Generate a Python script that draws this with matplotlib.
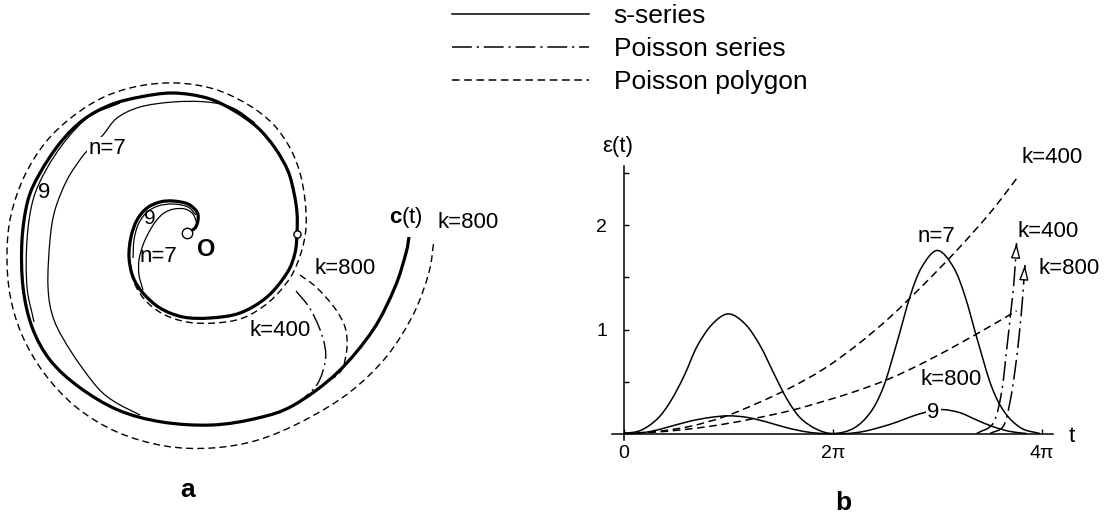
import numpy as np
import matplotlib
matplotlib.use('Agg')
import matplotlib.pyplot as plt
from matplotlib.path import Path
from matplotlib.patches import PathPatch
from matplotlib.lines import Line2D

plt.rcParams['font.family'] = ['Liberation Sans', 'DejaVu Sans']
plt.rcParams['mathtext.fontset'] = 'custom'
plt.rcParams['mathtext.rm'] = 'Liberation Sans'
plt.rcParams['mathtext.bf'] = 'Liberation Sans:bold'

# ---- panel a: curve points (origin at O, y up) ----
c_x = [0, 8, 11, 10, 1, -14, -27, -40, -50, -56, -58, -54, -44, -27, -4, 23, 53, 80, 100, 108,
       110, 110, 107, 101, 88, 70, 46, 20, -14, -47, -77, -104, -127, -147, -159, -165, -164,
       -155, -137, -108, -69, -25, 25, 71, 107, 150, 186, 208, 219, 222]
c_y = [0, 5, 13, 21, 29, 32, 31, 25, 13, -4, -24, -44, -60, -75, -84, -85, -80, -64, -40, -20,
       0, 20, 40, 62, 85, 106, 123, 135, 140, 136, 128, 113, 90, 60, 33, -7, -54,
       -94, -127, -154, -177, -189, -192, -185, -172, -140, -97, -54, -20, -4]

poly800_x = [-57, -53, -42, -24, 0, 28, 56, 82, 103, 114, 119, 118, 113, 103, 86, 60, 27, -10, -48,
             -83, -115, -142, -163, -176, -180, -177, -165, -143, -111, -70, -22, 25, 71, 118, 163,
             200, 227, 242, 247]
poly800_y = [-29, -49, -67, -81, -89, -90, -85, -69, -45, -20, 5, 33, 60, 85, 109, 129, 144, 150, 147,
             136, 116, 90, 56, 18, -20, -62, -102, -140, -174, -199, -213, -215, -207, -187, -159,
             -123, -80, -39, -7]

n7_out_x = [68, 46, 20, -14, -47, -70, -84, -95, -105, -120, -132, -137, -139, -133, -115, -90, -72, -47]
n7_out_y = [110, 125, 131, 131, 126, 115, 98, 87, 76, 53, 23, -7, -54, -87, -120, -154, -169, -182]

n9_out_x = [-67, -97, -121, -141, -154, -160, -160, -153]
n9_out_y = [130, 117, 93, 63, 33, -7, -54, -89]

n7_in_x = [10, 6, -2, -13, -23, -31, -38, -44, -48, -48, -44]
n7_in_y = [9, 19, 24, 24, 20, 12, 1, -12, -27, -42, -57]

n9_in_x = [9, 1, -14, -29, -41, -49, -53, -54]
n9_in_y = [18, 26, 29, 27, 20, 8, -7, -25]

mid800_x = [113, 129, 147, 158, 160, 156, 149, 143]
mid800_y = [-42, -54, -74, -94, -114, -134, -143, -146]

mid400_x = [109, 122, 132, 138, 138, 131, 118, 107]
mid400_y = [-58, -74, -94, -114, -130, -150, -164, -172]

dots_x = [0, 110]
dots_y = [0, -1]

# ---- panel b: error curves ----
t7 = [0.0, 0.5, 1.0, 1.4, 1.8, 2.2, 2.65, 3.14, 3.65, 4.1, 4.5, 4.9, 5.3, 5.8, 6.3,
      6.9, 7.4, 7.8, 8.2, 8.6, 8.95, 9.42, 9.9, 10.25, 10.65, 11.05, 11.45, 11.95, 12.5]
e7 = [0.0, 0.03, 0.14, 0.31, 0.55, 0.84, 1.05, 1.15, 1.05, 0.84, 0.58, 0.33, 0.15, 0.04, 0.0,
      0.05, 0.2, 0.45, 0.87, 1.32, 1.6, 1.76, 1.6, 1.32, 0.87, 0.45, 0.2, 0.05, 0.0]

t9 = [0.0, 0.3, 0.8, 1.3, 2.0, 2.6, 3.14, 3.7, 4.3, 4.9, 5.5, 6.0, 6.7, 7.2, 7.7, 8.2, 8.7,
      9.2, 9.6, 10.1, 10.6, 11.1, 11.6, 12.1]
e9 = [0.0, 0.0, 0.02, 0.06, 0.12, 0.155, 0.17, 0.155, 0.11, 0.055, 0.015, 0.0, 0.0, 0.02, 0.06,
      0.11, 0.17, 0.215, 0.23, 0.2, 0.13, 0.065, 0.02, 0.0]

tp = [0, 1, 2, 3, 4, 5, 6, 7, 8, 9, 10, 11, 11.8]
ep400 = [0, 0.02, 0.07, 0.16, 0.29, 0.44, 0.62, 0.85, 1.12, 1.43, 1.76, 2.12, 2.45]
ep800 = [0, 0.015, 0.045, 0.09, 0.15, 0.22, 0.31, 0.41, 0.53, 0.68, 0.85, 1.03, 1.18]

ts400 = [10.6, 11.1, 11.35, 11.5, 11.62, 11.72, 11.8]
es400 = [0.0, 0.1, 0.4, 0.8, 1.15, 1.45, 1.83]
ts800 = [11.0, 11.4, 11.6, 11.75, 11.88, 11.98, 12.05]
es800 = [0.0, 0.07, 0.3, 0.6, 0.95, 1.3, 1.62]

DASH = (0, (5, 3))
DASHDOT = (0, (13, 3.2, 1.4, 3.2))


def smooth(xs, ys):
    # catmull-rom through the read points, drawn as bezier path
    p = np.column_stack([xs, ys]).astype(float)
    ext = np.vstack([2 * p[0] - p[1], p, 2 * p[-1] - p[-2]])
    verts = [p[0]]
    codes = [Path.MOVETO]
    for i in range(1, len(ext) - 2):
        p0, p1, p2, p3 = ext[i - 1], ext[i], ext[i + 1], ext[i + 2]
        verts += [p1 + (p2 - p0) / 6, p2 - (p3 - p1) / 6, p2]
        codes += [Path.CURVE4] * 3
    return Path(verts, codes)


def curve(ax, xs, ys, lw=1.0, ls='-', z=2):
    ax.add_patch(PathPatch(smooth(xs, ys), fill=False, ec='black', lw=lw, ls=ls,
                           capstyle='butt', joinstyle='round', zorder=z))


fig = plt.figure(figsize=(11.08, 5.21), dpi=100)

# panel a
axL = fig.add_axes([0, 0, 560 / 1108, 1])
axL.set_xlim(-187, 373)
axL.set_ylim(-288, 233)
axL.axis('off')

curve(axL, poly800_x, poly800_y, lw=1.0, ls=DASH, z=2)
curve(axL, mid800_x, mid800_y, lw=1.0, ls=DASH, z=2)
curve(axL, mid400_x, mid400_y, lw=1.0, ls=DASHDOT, z=2)
curve(axL, n7_out_x, n7_out_y, lw=0.9, z=3)
curve(axL, n9_out_x, n9_out_y, lw=0.9, z=3)
curve(axL, n7_in_x, n7_in_y, lw=0.9, z=3)
curve(axL, n9_in_x, n9_in_y, lw=0.9, z=3)
curve(axL, c_x, c_y, lw=2.3, z=4)
axL.plot(dots_x[:1], dots_y[:1], 'o', ms=7.5, mfc='white', mec='black', mew=1.0, zorder=6)
axL.plot(dots_x[1:], dots_y[1:], 'o', ms=5.2, mfc='white', mec='black', mew=1.0, zorder=6)

fs = 16
axL.text(-80, 85, 'n=7', fontsize=fs, ha='center', va='center', zorder=5,
         bbox=dict(fc='white', ec='none', pad=0.5))
axL.text(-143, 41, '9', fontsize=fs, ha='center', va='center', zorder=5)
axL.text(-37, 15, '9', fontsize=fs - 1, ha='center', va='center', zorder=5)
axL.text(-29, -23, 'n=7', fontsize=fs, ha='center', va='center', zorder=5)
axL.text(19, -16, 'O', fontsize=17, fontweight='bold', ha='center', va='center', zorder=5)
axL.text(158, -35, 'k=800', fontsize=fs, ha='center', va='center')
axL.text(93, -97, 'k=400', fontsize=fs, ha='center', va='center')
axL.text(219, 16, r'$\mathbf{c}\mathrm{(t)}$', fontsize=fs, ha='center', va='center')
axL.text(281, 11, 'k=800', fontsize=fs, ha='center', va='center')
axL.text(1, -257, 'a', fontsize=19, fontweight='bold', ha='center', va='center')

# panel b
axR = fig.add_axes([560 / 1108, 0, 548 / 1108, 391 / 521])
axR.set_xlim(-1.924, 14.548)
axR.set_ylim(-0.841, 2.918)
axR.patch.set_visible(False)
for s in ['top', 'right']:
    axR.spines[s].set_visible(False)
axR.spines['left'].set_position(('data', 0))
axR.spines['bottom'].set_position(('data', 0))
axR.spines['left'].set_bounds(-0.06, 2.57)
axR.spines['bottom'].set_bounds(-0.35, 12.9)
axR.spines['left'].set_linewidth(1.1)
axR.spines['bottom'].set_linewidth(1.1)
axR.set_yticks([0.5, 1, 1.5, 2, 2.5])
axR.set_yticklabels(['', '1', '', '2', ''])
axR.set_xticks([0, 2 * np.pi, 4 * np.pi])
axR.set_xticklabels(['0', '2π', '4π'])
axR.tick_params(direction='in', length=3.5, width=1.0, labelsize=14)
axR.tick_params(axis='y', pad=12)
axR.tick_params(axis='x', pad=8)

curve(axR, t7, e7, lw=1.1)
curve(axR, t9, e9, lw=1.1)
curve(axR, tp, ep400, lw=1.1, ls=DASH)
curve(axR, tp, ep800, lw=1.1, ls=DASH)
curve(axR, ts400, es400, lw=1.1, ls=DASHDOT)
curve(axR, ts800, es800, lw=1.1, ls=DASHDOT)
for ts, es in [(ts400, es400), (ts800, es800)]:
    tip = np.array([ts[-1], es[-1]])
    prev = np.array([ts[-2], es[-2]])
    axR.annotate('', xy=tip, xytext=tip - 0.02 * (tip - prev),
                 arrowprops=dict(arrowstyle='-|>,head_length=0.9,head_width=0.28',
                                 fc='white', ec='black', lw=1.0, shrinkA=0, shrinkB=0))

axR.text(12.86, 2.65, 'k=400', fontsize=fs, ha='center', va='center')
axR.text(9.39, 1.89, 'n=7', fontsize=fs, ha='center', va='center')
axR.text(12.74, 1.94, 'k=400', fontsize=fs, ha='center', va='center')
axR.text(13.37, 1.59, 'k=800', fontsize=fs, ha='center', va='center')
axR.text(9.82, 0.52, 'k=800', fontsize=fs, ha='center', va='center')
axR.text(9.3, 0.2, '9', fontsize=fs, ha='center', va='center', zorder=5,
         bbox=dict(fc='white', ec='none', pad=1.0))
axR.text(13.46, -0.03, 't', fontsize=fs, ha='center', va='center')
axR.text(-0.18, 2.755, 'ε(t)', fontsize=fs, ha='center', va='center')
axR.text(6.58, -0.67, 'b', fontsize=19, fontweight='bold', ha='center', va='center')

handles = [Line2D([], [], color='black', lw=1.1),
           Line2D([], [], color='black', lw=1.1, ls=DASHDOT),
           Line2D([], [], color='black', lw=1.1, ls=DASH)]
fig.legend(handles, ['s-series', 'Poisson series', 'Poisson polygon'],
           loc='upper left', bbox_to_anchor=(452 / 1108, 1 - 4 / 521), frameon=False,
           fontsize=19, handlelength=5.2, handletextpad=0.92, labelspacing=0.34,
           borderpad=0, borderaxespad=0)

fig.savefig('out.png', dpi=100)
